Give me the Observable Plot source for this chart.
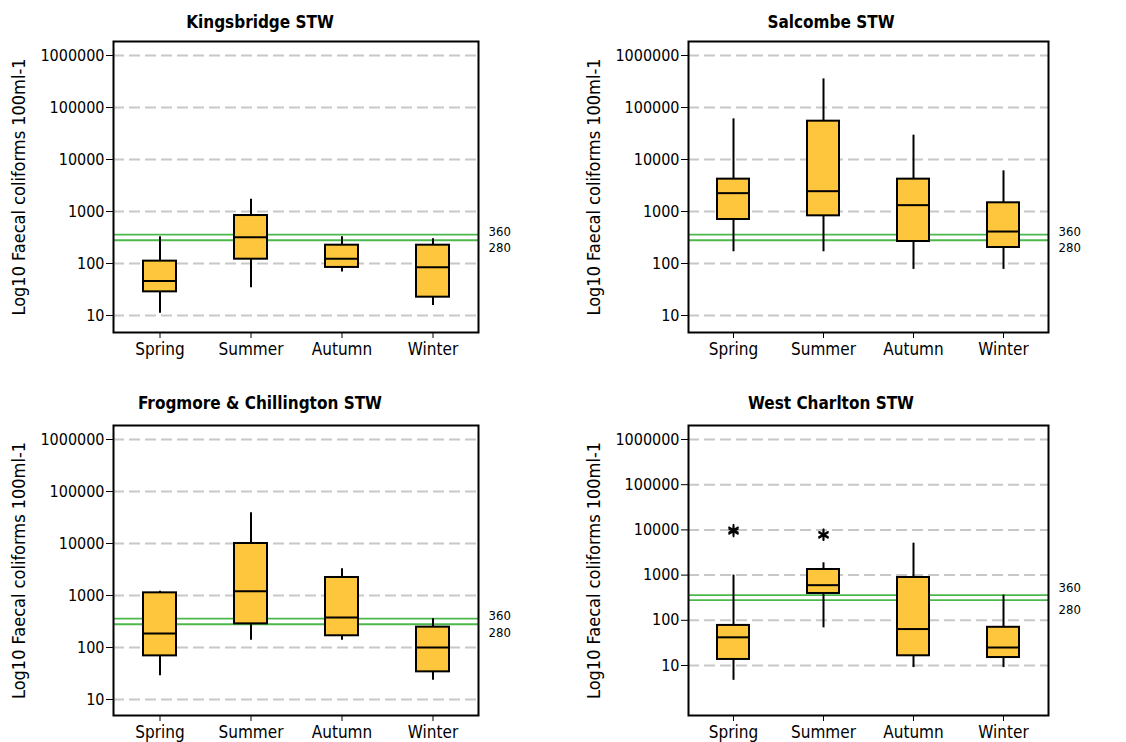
<!DOCTYPE html>
<html><head><meta charset="utf-8">
<script src="https://cdn.jsdelivr.net/npm/d3@7"></script>
<script src="https://cdn.jsdelivr.net/npm/@observablehq/plot@0.6"></script>
<style>
body{margin:0;background:#fff;font-family:"DejaVu Sans Condensed","DejaVu Sans",Verdana,sans-serif;font-stretch:condensed;}
#wrap{position:relative;width:1126px;height:742px;overflow:hidden;background:#fff;}
.panel{position:absolute;}
.title{position:absolute;font-weight:bold;font-size:17px;text-align:center;width:400px;line-height:20px;color:#000;font-stretch:condensed;}
svg text{font-stretch:condensed;}
</style></head><body><div id="wrap"></div>
<script>
const seasons = ["Spring", "Summer", "Autumn", "Winter"];
const siteNames = ["Kingsbridge STW", "Salcombe STW", "Frogmore & Chillington STW", "West Charlton STW"];
// rows: sites (in siteNames order); columns: seasons
const whiskerLow = [
  [11, 34, 69, 15.5],
  [168, 168, 77, 77],
  [28.5, 138, 138, 23.5],
  [4.7, 68, 9, 9]
];
const quartile1 = [
  [28.5, 121, 84, 22.5],
  [702, 826, 265, 203],
  [69, 285, 168, 34],
  [13.6, 392, 16.4, 15]
];
const medians = [
  [46, 321, 123, 85],
  [2255, 2460, 1325, 412],
  [186, 1210, 378, 100],
  [42, 599, 64, 25]
];
const quartile3 = [
  [111, 837, 225, 225],
  [4190, 54600, 4190, 1470],
  [1125, 10000, 2220, 246],
  [77, 1330, 885, 70]
];
const whiskerHigh = [
  [326, 1726, 326, 298],
  [60500, 355000, 29400, 6050],
  [1210, 38900, 3260, 356],
  [1000, 1870, 5080, 360]
];
const outlierSite = [3, 3, 3, 3];
const outlierSeason = ["Spring", "Spring", "Summer", "Summer"];
const outlierValue = [10000, 9300, 8000, 7600];
const thresholds = [360, 280];
const yTicks = [10, 100, 1000, 10000, 100000, 1000000];
const yLabel = "Log10 Faecal coliforms 100ml-1";

const layout = [
  {left: 0, top: 30, width: 560, height: 332, mt: 11, mb: 30, ml: 113, mr: 82, domain: [4.71, 1.86e6], titleX: 260, titleY: 22, dy: [-3, 8]},
  {left: 560, top: 30, width: 566, height: 332, mt: 11, mb: 30, ml: 128, mr: 78, domain: [4.71, 1.86e6], titleX: 831, titleY: 22, dy: [-3, 8]},
  {left: 0, top: 414, width: 560, height: 328, mt: 11, mb: 27, ml: 113, mr: 82, domain: [4.92, 1.86e6], titleX: 260, titleY: 403, dy: [-3, 9]},
  {left: 560, top: 414, width: 566, height: 328, mt: 11, mb: 27, ml: 128, mr: 78, domain: [0.783, 2.04e6], titleX: 831, titleY: 403, dy: [-7, 10]}
];

const FONT = "'DejaVu Sans Condensed', 'DejaVu Sans', Verdana, sans-serif";
const wrap = document.getElementById("wrap");

siteNames.forEach((name, s) => {
  const L = layout[s];
  const rows = seasons.map((season, i) => ({
    season,
    low: whiskerLow[s][i],
    q1: quartile1[s][i],
    med: medians[s][i],
    q3: quartile3[s][i],
    high: whiskerHigh[s][i]
  }));
  const outliers = outlierValue
    .map((v, i) => ({site: outlierSite[i], season: outlierSeason[i], value: v}))
    .filter(d => d.site === s);

  const chart = Plot.plot({
    width: L.width,
    height: L.height,
    marginTop: L.mt,
    marginBottom: L.mb,
    marginLeft: L.ml,
    marginRight: L.mr,
    style: {fontFamily: FONT, color: "black", background: "white", overflow: "visible"},
    x: {domain: seasons, padding: 0, axis: null},
    y: {type: "log", domain: L.domain, axis: null},
    marks: [
      Plot.ruleY(yTicks, {stroke: "#c8c8c8", strokeWidth: 2, strokeDasharray: "11,5"}),
      Plot.ruleY(thresholds, {stroke: "#4cb84c", strokeWidth: 1.8}),
      Plot.text([thresholds[0]], {y: d => d, text: d => String(d), frameAnchor: "right", dx: 10, dy: L.dy[0], textAnchor: "start", fontSize: 13, fill: "black"}),
      Plot.text([thresholds[1]], {y: d => d, text: d => String(d), frameAnchor: "right", dx: 10, dy: L.dy[1], textAnchor: "start", fontSize: 13, fill: "black"}),
      Plot.ruleX(rows, {x: "season", y1: "low", y2: "high", stroke: "black", strokeWidth: 2}),
      Plot.barY(rows, {x: "season", y1: "q1", y2: "q3", fill: "#fdc63c", stroke: "black", strokeWidth: 2, insetLeft: 29, insetRight: 29}),
      Plot.tickY(rows, {x: "season", y: "med", stroke: "black", strokeWidth: 2, insetLeft: 29, insetRight: 29}),
      Plot.dot(outliers, {x: "season", y: "value", symbol: "asterisk", r: 5.5, stroke: "black", strokeWidth: 1.7}),
      Plot.axisX({tickSize: 6, tickPadding: 4, fontSize: 17, label: null}),
      Plot.axisY(yTicks, {tickSize: 7, tickPadding: 2, fontSize: 16, tickFormat: d => String(d), label: null}),
      Plot.text([yLabel], {frameAnchor: "left", rotate: -90, dx: -94.5, fontSize: 18, textAnchor: "middle", fill: "black"}),
      Plot.frame({stroke: "black", strokeWidth: 2})
    ]
  });
  const holder = document.createElement("div");
  holder.className = "panel";
  holder.style.left = L.left + "px";
  holder.style.top = L.top + "px";
  holder.appendChild(chart);
  wrap.appendChild(holder);

  const t = document.createElement("div");
  t.className = "title";
  t.textContent = name;
  t.style.left = (L.titleX - 200) + "px";
  t.style.top = (L.titleY - 10) + "px";
  wrap.appendChild(t);
});
</script>
</body></html>
